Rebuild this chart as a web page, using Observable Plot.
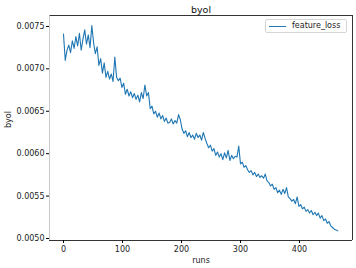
<!DOCTYPE html>
<html>
<head>
<meta charset="utf-8">
<script src="https://cdn.jsdelivr.net/npm/d3@7"></script>
<script src="https://cdn.jsdelivr.net/npm/@observablehq/plot@0.6"></script>
<style>
  html, body { margin: 0; padding: 0; background: #fff; }
  #wrap { position: relative; width: 356px; height: 268px; font-family: "DejaVu Sans", sans-serif; }
  #legend { position: absolute; left: 265px; top: 19px; width: 82px; height: 14px; border: 1px solid #d6d6d6; border-radius: 2px; background: rgba(255,255,255,0.8); box-sizing: border-box; }
  #legend .ln { position: absolute; left: 3px; top: 6px; width: 17px; height: 0; border-top: 1.2px solid #1f77b4; }
  #legend .tx { position: absolute; left: 26px; top: 1px; font-size: 8px; line-height: 10px; color: #222; white-space: nowrap; }
</style>
</head>
<body>
<div id="wrap"></div>
<script>
const title = "byol";
const seriesName = "feature_loss";
const xLabel = "runs";
const yLabel = "byol";
const xTicks = [0, 100, 200, 300, 400];
const yTicks = [0.0050, 0.0055, 0.0060, 0.0065, 0.0070, 0.0075];

const runs = [
  0,3,6,9,12,15,18,21,24,27,30,33,36,39,42,45,48,51,54,57,
  60,63,66,69,72,75,78,81,84,87,90,93,96,99,102,105,108,111,114,117,
  120,123,126,129,132,135,138,141,144,147,150,153,156,159,162,165,168,171,174,177,
  180,183,186,189,192,195,198,201,204,207,210,213,216,219,222,225,228,231,234,237,
  240,243,246,249,252,255,258,261,264,267,270,273,276,279,282,285,288,291,294,297,
  300,303,306,309,312,315,318,321,324,327,330,333,336,339,342,345,348,351,354,357,
  360,363,366,369,372,375,378,381,384,387,390,393,396,399,402,405,408,411,414,417,
  420,423,426,429,432,435,438,441,444,447,450,453,456,459,462,465
];
const loss = [
  0.00741,0.00710,0.00722,0.00728,0.00719,0.00733,0.00724,0.00738,0.00727,0.00742,
  0.00722,0.00735,0.00746,0.00729,0.00740,0.00725,0.00751,0.00731,0.00718,0.00726,
  0.00704,0.00712,0.00695,0.00707,0.00690,0.00697,0.00688,0.00694,0.00685,0.00714,
  0.00690,0.00686,0.00689,0.00678,0.00683,0.00670,0.00676,0.00668,0.00673,0.00666,
  0.00671,0.00664,0.00669,0.00661,0.00672,0.00665,0.00681,0.00668,0.00672,0.00653,
  0.00656,0.00647,0.00650,0.00643,0.00648,0.00641,0.00645,0.00638,0.00642,0.00636,
  0.00637,0.00641,0.00635,0.00639,0.00636,0.00646,0.00640,0.00629,0.00624,0.00627,
  0.00620,0.00625,0.00619,0.00622,0.00617,0.00624,0.00619,0.00622,0.00616,0.00625,
  0.00618,0.00612,0.00607,0.00610,0.00603,0.00606,0.00598,0.00602,0.00596,0.00600,
  0.00593,0.00601,0.00595,0.00604,0.00592,0.00598,0.00594,0.00597,0.00596,0.00609,
  0.00588,0.00590,0.00584,0.00586,0.00581,0.00578,0.00580,0.00575,0.00578,0.00573,
  0.00576,0.00572,0.00574,0.00571,0.00576,0.00568,0.00566,0.00562,0.00564,0.00558,
  0.00560,0.00554,0.00557,0.00552,0.00558,0.00553,0.00560,0.00549,0.00547,0.00544,
  0.00546,0.00541,0.00549,0.00538,0.00540,0.00535,0.00537,0.00532,0.00534,0.00530,
  0.00533,0.00528,0.00531,0.00527,0.00530,0.00524,0.00527,0.00521,0.00523,0.00518,
  0.00520,0.00515,0.00513,0.00511,0.00510,0.00509
];

const data = runs.map((r, i) => ({run: r, value: loss[i]}));
const xDom = [-23.7, 489.8];
const yDom = [0.0049765, 0.007629];

const chart = Plot.plot({
  width: 356,
  height: 268,
  marginLeft: 49,
  marginRight: 4,
  marginTop: 15,
  marginBottom: 28,
  style: {fontFamily: "DejaVu Sans, sans-serif", fontSize: "8px", color: "#222", background: "#fff"},
  x: {domain: xDom},
  y: {domain: yDom},
  marks: [
    Plot.axisX({ticks: xTicks, tickSize: 3, tickPadding: 3, label: null, fontSize: 8, stroke: "#000"}),
    Plot.axisY({ticks: yTicks, tickSize: 3, tickPadding: 2, label: null, tickFormat: d3.format(".4f"), fontSize: 8, stroke: "#000"}),
    Plot.line(data, {x: "run", y: "value", stroke: "#1f77b4", strokeWidth: 1.1}),
    Plot.ruleY([yDom[0], yDom[1]], {stroke: "#000", strokeWidth: 0.8}),
    Plot.ruleX([xDom[1]], {stroke: "#000", strokeWidth: 0.8}),
    Plot.ruleX([xDom[0]], {stroke: "#bbb", strokeWidth: 0.8}),
    Plot.text([title], {frameAnchor: "top", dy: -9, fontSize: 9.5, fill: "#111"}),
    Plot.text([xLabel], {frameAnchor: "bottom", dy: 22, fontSize: 8, fill: "#222"}),
    Plot.text([yLabel], {frameAnchor: "left", dx: -41, rotate: -90, fontSize: 8, fill: "#222"})
  ]
});

const wrap = document.getElementById("wrap");
wrap.appendChild(chart);
const lg = document.createElement("div");
lg.id = "legend";
lg.innerHTML = `<div class="ln"></div><div class="tx">${seriesName}</div>`;
wrap.appendChild(lg);
</script>
</body>
</html>
